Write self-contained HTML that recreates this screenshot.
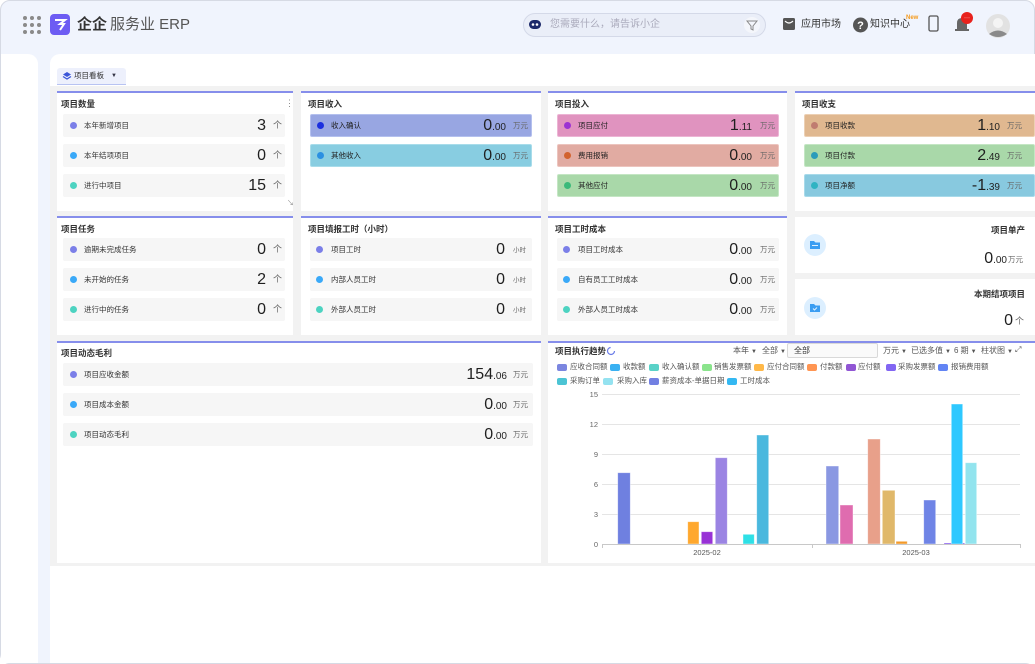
<!DOCTYPE html>
<html><head><meta charset="utf-8">
<style>
*{margin:0;padding:0;box-sizing:border-box}
html,body{width:1035px;height:664px;overflow:hidden;background:#fff}
body{position:relative;font-family:"Liberation Sans","Noto Sans CJK SC",sans-serif;color:#333}
.a{position:absolute}
#frame{position:absolute;left:0;top:0;width:1035px;height:664px;border:1px solid #d6dae4;border-radius:10px;background:#f0f4fd;overflow:hidden}
.pn{position:absolute;background:#fff;border-top:2px solid #868eeb}
.t{position:absolute;font-size:8.5px;font-weight:bold;color:#333;line-height:12px;white-space:nowrap}
.r{position:absolute;height:23px;background:#f6f6f6;border-radius:2px}
.d{position:absolute;width:7px;height:7px;border-radius:50%;top:8px}
.l{position:absolute;top:0;line-height:23px;font-size:7.5px;color:#333;white-space:nowrap}
.v{position:absolute;line-height:23px;font-size:16px;color:#1f1f1f;text-align:right;white-space:nowrap}
.v small{font-size:10px}
.u{position:absolute;line-height:23px;font-size:7.5px;color:#666;white-space:nowrap}
.c{position:absolute;font-size:8px;color:#555;line-height:12px;white-space:nowrap}
.c i{font-style:normal;font-size:6px;margin-left:2px}
.lg{position:absolute;font-size:7.5px;color:#555;line-height:10px;white-space:nowrap}
.sw{position:absolute;width:10px;height:7px;border-radius:2px}
</style></head><body>
<div id="frame"></div>
<!-- sidebar -->
<div class="a" style="left:1px;top:54px;width:37px;height:609px;background:#fff;border-top-right-radius:10px"></div>
<!-- main -->
<div class="a" style="left:50px;top:54px;width:985px;height:609px;background:#fff;border-top-left-radius:10px"></div>

<!-- header -->
<svg class="a" style="left:0;top:0" width="1035" height="54">
 <g fill="#8a8a8a">
  <circle cx="25" cy="18" r="2"/><circle cx="32" cy="18" r="2"/><circle cx="39" cy="18" r="2"/>
  <circle cx="25" cy="25" r="2"/><circle cx="32" cy="25" r="2"/><circle cx="39" cy="25" r="2"/>
  <circle cx="25" cy="32" r="2"/><circle cx="32" cy="32" r="2"/><circle cx="39" cy="32" r="2"/>
 </g>
 <rect x="50" y="14" width="20" height="21" rx="4" fill="#6d5cf3"/>
 <path d="M55 20 H65 L60 24 H64 L60 30" stroke="#fff" stroke-width="2" fill="none"/>
 <rect x="523.5" y="13.5" width="242" height="23" rx="11.5" fill="#eaeef8" stroke="#d4d9e8"/>
 <rect x="529" y="20" width="12" height="9" rx="4.5" fill="#1d2a6b"/>
 <circle cx="533" cy="24.5" r="1.3" fill="#fff"/><circle cx="537" cy="24.5" r="1.3" fill="#fff"/>
 <circle cx="752" cy="25" r="8" fill="#f4f6fb"/>
 <path d="M747 21 H757 L753 26 V30 L751 29 V26 Z" fill="none" stroke="#888" stroke-width="1"/>
 <rect x="783" y="18" width="12" height="12" rx="1.5" fill="#555"/>
 <path d="M785 21 Q789 25 793 21" stroke="#fff" stroke-width="1.2" fill="none"/>
 <circle cx="860.5" cy="25" r="7.5" fill="#555"/>
 <text x="860.5" y="29" font-size="11" font-weight="bold" fill="#fff" text-anchor="middle" font-family="Liberation Sans">?</text>
 <rect x="929" y="16" width="9" height="15" rx="1.5" fill="none" stroke="#555" stroke-width="1.3"/>
 <path d="M957 30 V23 Q957 18 962 18 Q967 18 967 23 V30 Z" fill="#666"/>
 <rect x="955" y="29" width="14" height="2" fill="#666"/>
 <circle cx="967" cy="18" r="6" fill="#e8221d"/>
 <text x="967" y="19.5" font-size="6" fill="#fff" text-anchor="middle" font-family="Liberation Sans">···</text>
 <circle cx="998" cy="26" r="12" fill="#e2e2e2"/>
 <circle cx="998" cy="23" r="5" fill="#f4f4f4"/>
 <path d="M989 34 Q998 27 1007 34 Q998 40 989 34Z" fill="#8a8a8a"/>
</svg>
<div class="a" style="left:77px;top:15px;font-size:15px;font-weight:bold;color:#333;line-height:20px">企企</div>
<div class="a" style="left:110px;top:15px;font-size:15px;color:#555;line-height:20px">服务业 ERP</div>
<div class="a" style="left:550px;top:19px;font-size:10px;color:#aab;line-height:12px">您需要什么，请告诉小企</div>
<div class="a" style="left:801px;top:18px;font-size:10px;color:#333;line-height:13px">应用市场</div>
<div class="a" style="left:870px;top:18px;font-size:10px;color:#333;line-height:13px">知识中心</div>
<div class="a" style="left:906px;top:15px;font-size:6px;color:#f59a1c;font-weight:bold;line-height:7px">New</div>

<!-- tab -->
<div class="a" style="left:57px;top:68px;width:69px;height:17px;background:#edf0fc;border-radius:3px 3px 0 0;border-bottom:1.5px solid #b8c3f2"></div>
<svg class="a" style="left:62px;top:71px" width="10" height="10"><path d="M5 1 L9 3.5 L5 6 L1 3.5Z" fill="#3b56d8"/><path d="M1 5.5 L5 8 L9 5.5" stroke="#3b56d8" stroke-width="1.3" fill="none"/></svg>
<div class="a" style="left:74px;top:70px;font-size:7.5px;color:#333;line-height:11px">项目看板</div>
<div class="a" style="left:111px;top:71px;font-size:6px;color:#334;line-height:10px">▼</div>

<!-- grey dashboard bg -->
<div class="a" style="left:50px;top:86px;width:985px;height:480px;background:#f2f2f2"></div>

<!-- ROW 1 panels -->
<div class="pn" style="left:57px;top:91px;width:236px;height:120px"></div>
<div class="pn" style="left:301px;top:91px;width:240px;height:120px"></div>
<div class="pn" style="left:548px;top:91px;width:239px;height:120px"></div>
<div class="pn" style="left:795px;top:91px;width:240px;height:120px"></div>
<div class="t" style="left:61px;top:98px">项目数量</div>
<div class="a" style="left:285px;top:97px;font-size:9px;color:#888;line-height:12px">⋮</div>
<div class="a" style="left:287px;top:199px;font-size:7px;color:#888;line-height:10px">↘</div>
<div class="t" style="left:308px;top:98px">项目收入</div>
<div class="t" style="left:555px;top:98px">项目投入</div>
<div class="t" style="left:802px;top:98px">项目收支</div>

<!-- panel1 rows -->
<div class="r" style="left:63px;top:114px;width:222px"><div class="d" style="left:7px;background:#7b7fe8"></div><div class="l" style="left:21px">本年新增项目</div></div>
<div class="r" style="left:63px;top:144px;width:222px"><div class="d" style="left:7px;background:#3aa9f8"></div><div class="l" style="left:21px">本年结项项目</div></div>
<div class="r" style="left:63px;top:174px;width:222px"><div class="d" style="left:7px;background:#4dd3c1"></div><div class="l" style="left:21px">进行中项目</div></div>
<div class="v" style="right:769px;top:114px">3</div><div class="u" style="left:273px;top:114px;font-size:9px">个</div>
<div class="v" style="right:769px;top:144px">0</div><div class="u" style="left:273px;top:144px;font-size:9px">个</div>
<div class="v" style="right:769px;top:174px">15</div><div class="u" style="left:273px;top:174px;font-size:9px">个</div>

<!-- panel2 rows -->
<div class="r" style="left:310px;top:114px;width:222px;background:#98a6e2;border:1px solid #b4c0ee"><div class="d" style="left:6px;top:7px;background:#1b2fdf"></div><div class="l" style="left:20px;top:-1px;color:#222">收入确认</div></div>
<div class="r" style="left:310px;top:144px;width:222px;background:#88cde1;border:1px solid #a8dcea"><div class="d" style="left:6px;top:7px;background:#2a90e2"></div><div class="l" style="left:20px;top:-1px;color:#222">其他收入</div></div>
<div class="v" style="right:529px;top:114px">0<small>.00</small></div><div class="u" style="left:513px;top:114px">万元</div>
<div class="v" style="right:529px;top:144px">0<small>.00</small></div><div class="u" style="left:513px;top:144px">万元</div>

<!-- panel3 rows -->
<div class="r" style="left:557px;top:114px;width:222px;background:#e093bf;border:1px solid #ecb4d4"><div class="d" style="left:6px;top:7px;background:#9b32d2"></div><div class="l" style="left:20px;top:-1px;color:#222">项目应付</div></div>
<div class="r" style="left:557px;top:144px;width:222px;background:#e1aba2;border:1px solid #ecc4be"><div class="d" style="left:6px;top:7px;background:#d2622e"></div><div class="l" style="left:20px;top:-1px;color:#222">费用报销</div></div>
<div class="r" style="left:557px;top:174px;width:222px;background:#a9d8a9;border:1px solid #c4e6c4"><div class="d" style="left:6px;top:7px;background:#3bb97a"></div><div class="l" style="left:20px;top:-1px;color:#222">其他应付</div></div>
<div class="v" style="right:283px;top:114px">1<small>.11</small></div><div class="u" style="left:760px;top:114px">万元</div>
<div class="v" style="right:283px;top:144px">0<small>.00</small></div><div class="u" style="left:760px;top:144px">万元</div>
<div class="v" style="right:283px;top:174px">0<small>.00</small></div><div class="u" style="left:760px;top:174px">万元</div>

<!-- panel4 rows -->
<div class="r" style="left:804px;top:114px;width:231px;background:#e0b890;border:1px solid #ecd0b4"><div class="d" style="left:6px;top:7px;background:#c07c70"></div><div class="l" style="left:20px;top:-1px;color:#222">项目收款</div></div>
<div class="r" style="left:804px;top:144px;width:231px;background:#a9d8a9;border:1px solid #c4e6c4"><div class="d" style="left:6px;top:7px;background:#2a9bba"></div><div class="l" style="left:20px;top:-1px;color:#222">项目付款</div></div>
<div class="r" style="left:804px;top:174px;width:231px;background:#88c9df;border:1px solid #a8daea"><div class="d" style="left:6px;top:7px;background:#30b3c2"></div><div class="l" style="left:20px;top:-1px;color:#222">项目净额</div></div>
<div class="v" style="right:35px;top:114px">1<small>.10</small></div><div class="u" style="left:1007px;top:114px">万元</div>
<div class="v" style="right:35px;top:144px">2<small>.49</small></div><div class="u" style="left:1007px;top:144px">万元</div>
<div class="v" style="right:35px;top:174px">-1<small>.39</small></div><div class="u" style="left:1007px;top:174px">万元</div>

<!-- ROW 2 panels -->
<div class="pn" style="left:57px;top:216px;width:236px;height:119px"></div>
<div class="pn" style="left:301px;top:216px;width:240px;height:119px"></div>
<div class="pn" style="left:548px;top:216px;width:239px;height:119px"></div>
<div class="a" style="left:795px;top:217px;width:240px;height:56px;background:#fff"></div>
<div class="a" style="left:795px;top:279px;width:240px;height:56px;background:#fff"></div>
<div class="t" style="left:61px;top:223px">项目任务</div>
<div class="t" style="left:308px;top:223px">项目填报工时（小时）</div>
<div class="t" style="left:555px;top:223px">项目工时成本</div>

<div class="r" style="left:63px;top:238px;width:222px"><div class="d" style="left:7px;background:#7b7fe8"></div><div class="l" style="left:21px">逾期未完成任务</div></div>
<div class="r" style="left:63px;top:268px;width:222px"><div class="d" style="left:7px;background:#3aa9f8"></div><div class="l" style="left:21px">未开始的任务</div></div>
<div class="r" style="left:63px;top:298px;width:222px"><div class="d" style="left:7px;background:#4dd3c1"></div><div class="l" style="left:21px">进行中的任务</div></div>
<div class="v" style="right:769px;top:238px">0</div><div class="u" style="left:273px;top:238px;font-size:9px">个</div>
<div class="v" style="right:769px;top:268px">2</div><div class="u" style="left:273px;top:268px;font-size:9px">个</div>
<div class="v" style="right:769px;top:298px">0</div><div class="u" style="left:273px;top:298px;font-size:9px">个</div>

<div class="r" style="left:310px;top:238px;width:222px"><div class="d" style="left:6px;background:#7b7fe8"></div><div class="l" style="left:21px">项目工时</div></div>
<div class="r" style="left:310px;top:268px;width:222px"><div class="d" style="left:6px;background:#3aa9f8"></div><div class="l" style="left:21px">内部人员工时</div></div>
<div class="r" style="left:310px;top:298px;width:222px"><div class="d" style="left:6px;background:#4dd3c1"></div><div class="l" style="left:21px">外部人员工时</div></div>
<div class="v" style="right:530px;top:238px">0</div><div class="u" style="left:513px;top:239px;font-size:6.5px">小时</div>
<div class="v" style="right:530px;top:268px">0</div><div class="u" style="left:513px;top:269px;font-size:6.5px">小时</div>
<div class="v" style="right:530px;top:298px">0</div><div class="u" style="left:513px;top:299px;font-size:6.5px">小时</div>

<div class="r" style="left:557px;top:238px;width:222px"><div class="d" style="left:6px;background:#7b7fe8"></div><div class="l" style="left:21px">项目工时成本</div></div>
<div class="r" style="left:557px;top:268px;width:222px"><div class="d" style="left:6px;background:#3aa9f8"></div><div class="l" style="left:21px">自有员工工时成本</div></div>
<div class="r" style="left:557px;top:298px;width:222px"><div class="d" style="left:6px;background:#4dd3c1"></div><div class="l" style="left:21px">外部人员工时成本</div></div>
<div class="v" style="right:283px;top:238px">0<small>.00</small></div><div class="u" style="left:760px;top:238px">万元</div>
<div class="v" style="right:283px;top:268px">0<small>.00</small></div><div class="u" style="left:760px;top:268px">万元</div>
<div class="v" style="right:283px;top:298px">0<small>.00</small></div><div class="u" style="left:760px;top:298px">万元</div>

<!-- cards -->
<svg class="a" style="left:803px;top:233px" width="24" height="90">
 <circle cx="12" cy="12" r="11" fill="#dcefff"/>
 <path d="M7 8 H11 L12.5 9.5 H17 V16 H7Z" fill="#3a9df2"/>
 <rect x="9" y="12" width="6" height="1" fill="#dcefff"/>
 <circle cx="12" cy="75" r="11" fill="#dcefff"/>
 <path d="M7 71 H11 L12.5 72.5 H17 V79 H7Z" fill="#3a9df2"/>
 <path d="M10 75.5 L11.5 77 L14 74.5" stroke="#dcefff" stroke-width="1" fill="none"/>
</svg>
<div class="t" style="right:10px;top:224px">项目单产</div>
<div class="v" style="right:28px;top:247px">0<small>.00</small></div><div class="u" style="left:1008px;top:248px">万元</div>
<div class="t" style="right:10px;top:288px">本期结项项目</div>
<div class="v" style="right:22px;top:309px">0</div><div class="u" style="left:1015px;top:310px;font-size:9px">个</div>

<!-- ROW 3 -->
<div class="pn" style="left:57px;top:341px;width:484px;height:222px"></div>
<div class="pn" style="left:548px;top:341px;width:487px;height:222px"></div>
<div class="t" style="left:61px;top:347px">项目动态毛利</div>
<div class="r" style="left:63px;top:363px;width:470px"><div class="d" style="left:7px;background:#7b7fe8"></div><div class="l" style="left:21px">项目应收金额</div></div>
<div class="r" style="left:63px;top:393px;width:470px"><div class="d" style="left:7px;background:#3aa9f8"></div><div class="l" style="left:21px">项目成本金额</div></div>
<div class="r" style="left:63px;top:423px;width:470px"><div class="d" style="left:7px;background:#4dd3c1"></div><div class="l" style="left:21px">项目动态毛利</div></div>
<div class="v" style="right:528px;top:363px">154<small>.06</small></div><div class="u" style="left:513px;top:363px">万元</div>
<div class="v" style="right:528px;top:393px">0<small>.00</small></div><div class="u" style="left:513px;top:393px">万元</div>
<div class="v" style="right:528px;top:423px">0<small>.00</small></div><div class="u" style="left:513px;top:423px">万元</div>

<!-- chart header -->
<div class="t" style="left:555px;top:345px">项目执行趋势</div>
<svg class="a" style="left:606px;top:346px" width="10" height="10"><circle cx="5" cy="5" r="3.5" fill="none" stroke="#6a7ce8" stroke-width="1.2" stroke-dasharray="16 6"/></svg>
<div class="c" style="left:733px;top:345px">本年<i>▼</i></div>
<div class="c" style="left:762px;top:345px">全部<i>▼</i></div>
<div class="a" style="left:787px;top:343px;width:91px;height:15px;border:1px solid #d9d9d9;background:#fafafa;border-radius:2px"></div>
<div class="c" style="left:794px;top:345px;color:#333">全部</div>
<div class="c" style="left:883px;top:345px">万元<i>▼</i></div>
<div class="c" style="left:911px;top:345px">已选多值<i>▼</i></div>
<div class="c" style="left:954px;top:345px">6 期<i>▼</i></div>
<div class="c" style="left:981px;top:345px">柱状图<i>▼</i></div>
<div class="c" style="left:1015px;top:344px;font-size:8px">⤢</div>

<!-- legend -->
<div class="sw" style="left:557px;top:364px;background:#7b86e0"></div><div class="lg" style="left:570px;top:362px">应收合同额</div>
<div class="sw" style="left:610px;top:364px;background:#3ab1f2"></div><div class="lg" style="left:623px;top:362px">收款额</div>
<div class="sw" style="left:649px;top:364px;background:#5ad2c8"></div><div class="lg" style="left:662px;top:362px">收入确认额</div>
<div class="sw" style="left:702px;top:364px;background:#8ae48c"></div><div class="lg" style="left:714px;top:362px">销售发票额</div>
<div class="sw" style="left:754px;top:364px;background:#ffb848"></div><div class="lg" style="left:767px;top:362px">应付合同额</div>
<div class="sw" style="left:807px;top:364px;background:#ff9552"></div><div class="lg" style="left:820px;top:362px">付款额</div>
<div class="sw" style="left:846px;top:364px;background:#9156d4"></div><div class="lg" style="left:858px;top:362px">应付额</div>
<div class="sw" style="left:886px;top:364px;background:#8266f2"></div><div class="lg" style="left:898px;top:362px">采购发票额</div>
<div class="sw" style="left:938px;top:364px;background:#6284f4"></div><div class="lg" style="left:951px;top:362px">报销费用额</div>
<div class="sw" style="left:557px;top:378px;background:#4cc4d4"></div><div class="lg" style="left:570px;top:376px">采购订单</div>
<div class="sw" style="left:603px;top:378px;background:#94e2f0"></div><div class="lg" style="left:617px;top:376px">采购入库</div>
<div class="sw" style="left:649px;top:378px;background:#7280e2"></div><div class="lg" style="left:662px;top:376px">薪资成本-单据日期</div>
<div class="sw" style="left:727px;top:378px;background:#34b8f2"></div><div class="lg" style="left:740px;top:376px">工时成本</div>

<!-- chart -->
<svg class="a" style="left:0;top:0" width="1035" height="664">
 <g stroke="#e5e5e5" stroke-width="1">
  <line x1="602" y1="394.5" x2="1020" y2="394.5"/>
  <line x1="602" y1="424.5" x2="1020" y2="424.5"/>
  <line x1="602" y1="454.5" x2="1020" y2="454.5"/>
  <line x1="602" y1="484.5" x2="1020" y2="484.5"/>
  <line x1="602" y1="514.5" x2="1020" y2="514.5"/>
 </g>
 <g font-family="Liberation Sans" font-size="7.5" fill="#666" text-anchor="end">
  <text x="598" y="397">15</text><text x="598" y="427">12</text><text x="598" y="457">9</text>
  <text x="598" y="487">6</text><text x="598" y="517">3</text><text x="598" y="547">0</text>
 </g>
 <g stroke-width="0.8" stroke="#ffffff" stroke-opacity="0.5">
  <rect x="617.7" y="472.7" width="12.6" height="71.3" fill="#6f80e0"/>
  <rect x="687.7" y="521.7" width="11.3" height="22.3" fill="#ffa82e"/>
  <rect x="701.3" y="531.7" width="11.4" height="12.3" fill="#9832d6"/>
  <rect x="715.3" y="457.7" width="12" height="86.3" fill="#9b84e3"/>
  <rect x="743" y="534.3" width="11.3" height="9.7" fill="#2ee0e6"/>
  <rect x="756.7" y="435" width="12" height="109" fill="#4ab8de"/>
  <rect x="826" y="466" width="12.7" height="78" fill="#8a98e2"/>
  <rect x="840" y="505" width="13" height="39" fill="#df6caf"/>
  <rect x="867.7" y="439" width="12.6" height="105" fill="#e8a08a"/>
  <rect x="882.3" y="490.3" width="12.7" height="53.7" fill="#e0b86a"/>
  <rect x="896" y="541.3" width="11.3" height="2.7" fill="#f39a2a"/>
  <rect x="923.7" y="500" width="12" height="44" fill="#6f84e6"/>
  <rect x="944" y="543" width="20.7" height="1.5" fill="#8a60f0"/>
  <rect x="951.3" y="404" width="11.4" height="140" fill="#2ec8ff"/>
  <rect x="965.3" y="462.7" width="11.4" height="81.3" fill="#92e4ee"/>
 </g>
 <line x1="602" y1="544.5" x2="1020" y2="544.5" stroke="#c8c8c8"/>
 <g stroke="#c8c8c8"><line x1="602.5" y1="544" x2="602.5" y2="548"/><line x1="812.5" y1="544" x2="812.5" y2="548"/><line x1="1020.5" y1="544" x2="1020.5" y2="548"/></g>
 <g font-family="Liberation Sans" font-size="7.5" fill="#555" text-anchor="middle">
  <text x="707" y="555">2025-02</text><text x="916" y="555">2025-03</text>
 </g>
</svg>
</body></html>
